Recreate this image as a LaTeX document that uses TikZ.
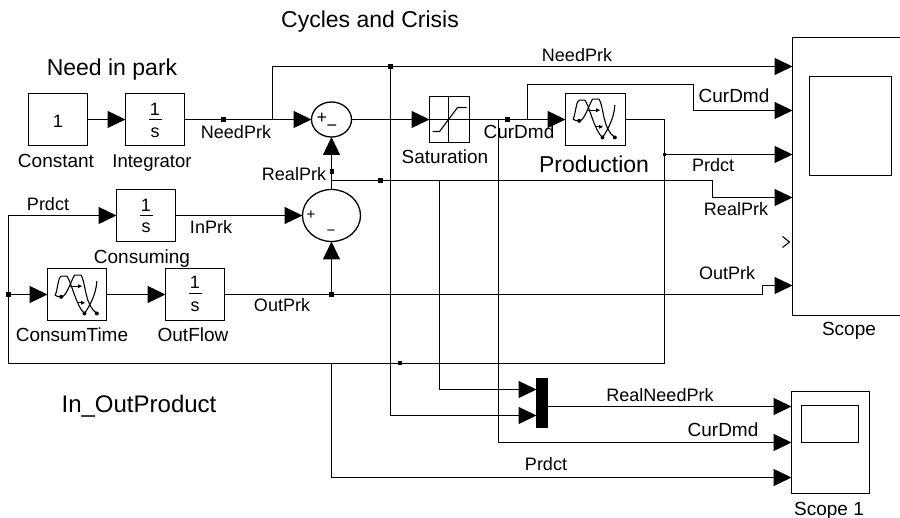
\documentclass[tikz,border=0pt]{standalone}
\usepackage{fontspec}
\setmainfont{Liberation Sans}
\usetikzlibrary{arrows.meta,shapes.geometric,calc}
\newcommand{\wavicon}[2]{%
\begin{scope}[shift={(#1,#2)},x=0.3333pt,y=-0.3333pt,line width=1.1pt]
\draw (65,97) .. controls (55,97) and (50,95) .. (47,92) .. controls (55,75) and (55,40) .. (65,35) -- (82,35) .. controls (95,50) and (110,125) .. (135,147);
\draw (65,97) .. controls (80,97) and (90,60) .. (105,32) -- (125,32) .. controls (140,60) and (135,120) .. (172,147);
\draw (172,50) .. controls (170,90) and (150,125) .. (135,147);
\draw[-{Triangle[length=4pt,width=3.5pt]}] (90,65) -- (128,65);
\draw[-{Triangle[length=4pt,width=3.5pt]}] (115,115) -- (137,115);
\fill (65,97) circle (6);
\fill (135,147) circle (6);
\fill (172,147) circle (6);
\end{scope}}
\tikzset{
  wire/.style={line width=1.3pt,line join=miter},
  arr/.style={wire,-{Triangle[length=18pt,width=17pt]}},
  blk/.style={draw,line width=1.3pt,rectangle,inner sep=0pt,outer sep=0pt,minimum width=59pt,minimum height=52pt},
  sumr/.style={draw,line width=1.3pt,ellipse,inner sep=0pt,outer sep=0pt},
  jn/.style={fill=black,rectangle,inner sep=0pt,outer sep=0pt,minimum size=4.5pt},
  lab/.style={anchor=base,inner sep=0pt,yshift=-1pt,font=\fontsize{18}{18}\selectfont},
  labw/.style={lab,font=\fontsize{19}{19}\selectfont},
  big/.style={anchor=base,inner sep=0pt,yshift=-1pt,font=\fontsize{23}{23}\selectfont},
  sgn/.style={inner sep=0pt,font=\fontsize{18}{18}\selectfont},
  sgns/.style={inner sep=0pt,font=\fontsize{15}{15}\selectfont}
}
\begin{document}
\begin{tikzpicture}[x=1pt,y=-1pt]
\useasboundingbox (0,0) rectangle (900,518);
\clip (0,0) rectangle (900,518);
\begin{scope}[shift={(-0.5,-0.5)}]
% blocks
\node[blk] (const) at (58.5,120) {};
\node[blk] (integ) at (155.5,120) {};
\node[blk] (cons) at (146.5,216) {};
\node[blk] (ctime) at (77.5,295) {};
\node[blk] (ofl) at (195.5,295) {};
\node[blk,minimum width=40pt,minimum height=46pt] (sat) at (450,120) {};
\node[blk,minimum width=60pt] (prod) at (596,120) {};
\node[blk,minimum width=112pt,minimum height=278pt] (scope) at (849,177) {};
\node[blk,minimum width=82pt,minimum height=99pt] (scopei) at (851,126.5) {};
\node[blk,minimum width=78pt,minimum height=102pt] (scb) at (831,443) {};
\node[blk,minimum width=57pt,minimum height=37pt] (scbi) at (830.5,424.5) {};
\node[draw=black,fill=black,inner sep=0pt,outer sep=0pt,minimum width=11pt,minimum height=49pt] (mux) at (542.5,403.5) {};
\node[sumr,minimum width=40pt,minimum height=35pt] (sa) at (332,120) {};
\node[sumr,minimum width=58pt,minimum height=52pt] (sb) at (332,216) {};
% junctions
\node[jn] (jneed) at (224,120) {};
\node[jn] (jtop) at (391,67) {};
\node[jn] (jcur) at (508,120) {};
\node[jn,minimum size=3.5pt] (jprd) at (665,155) {};
\node[jn] (jrp) at (332.5,172) {};
\node[jn] (jr2) at (381,181) {};
\node[jn] (jleft) at (9,295) {};
\node[jn] (jout) at (332,295) {};
\node[jn,minimum size=4pt] (jlow) at (400,364) {};
% free coordinates
\coordinate (s1) at (793,67);
\coordinate (s2) at (793,111);
\coordinate (s3) at (793,155);
\coordinate (s4) at (793,198);
\coordinate (s6) at (793,286);
\coordinate (b1) at (792,407);
\coordinate (b2) at (792,443);
\coordinate (b3) at (792,478);
\coordinate (m1) at (537,390);
\coordinate (m2) at (537,416);
\coordinate (mo) at (548,407);
% connectors
\draw[arr] (const.east) -- (integ.west);
\draw[arr] (integ.east) -- (sa.west);
\draw[arr] (273,120) -- (273,67) -- (s1);
\draw[arr] (sa.east) -- (sat.west |- sa.east);
\draw[arr] (sat.east |- prod.west) -- (prod.west);
\draw[arr] (528,120) -- (528,85) -- (694,85) -- (694,111) -- (s2);
\draw[wire] (prod.east) -- (665,120) -- (665,364) -- (9,364) -- (9,216);
\draw[arr] (9,216) -- (cons.west);
\draw[arr] (jprd) -- (s3);
\draw[arr] (jleft) -- (ctime.west);
\draw[arr] (ctime.east) -- (ofl.west);
\draw[wire] (ofl.east) -- (jout);
\draw[arr] (jout) -- (sb.south);
\draw[arr] (cons.east) -- (sb.west);
\draw[arr] (sb.north) -- (sa.south);
\draw[arr] (jout) -- (763,295) -- (763,286) -- (s6);
\draw[arr] (332,181) -- (713,181) -- (713,198) -- (s4);
\draw[arr] (440,181) -- (440,390) -- (m1);
\draw[arr] (jtop) -- (391,416) -- (m2);
\draw[arr] (499,120) -- (499,443) -- (b2);
\draw[arr] (332,364) -- (332,478) -- (b3);
\draw[arr] (mo) -- (b1);
% block icons
\draw[wire] (149,120) -- (162,120);
\draw[wire] (140,216) -- (153,216);
\draw[wire] (189,294) -- (202,294);
\wavicon{40}{265}
\wavicon{558}{89}
\draw[line width=1.1pt] (449,97) -- (449,143) (430,120) -- (470,120);
\draw[line width=1.1pt] (433,132) -- (440,132) -- (458,108) -- (467,108);
\draw[line width=1.1pt] (783,237) -- (790,242.5) -- (783,248);
\end{scope}
\node[lab] (t1) at (58,127) {1};
\node[lab] (i1) at (155,115) {1};
\node[lab] (i2) at (155,137) {s};
\node[lab] (c1) at (146,211) {1};
\node[lab] (c2) at (146,232) {s};
\node[lab] (o1) at (195,288) {1};
\node[lab] (o2) at (195,311) {s};
% signs
\node[sgn] (p1) at (322,118.5) {+};
\node[sgn] (m3) at (332,128) {−};
\node[sgns] (p2) at (311,215.5) {+};
\node[sgns] (m4) at (331,232.5) {−};
% labels
\node[big] (l1) at (370,27) {Cycles and Crisis};
\node[big] (l2) at (112,75) {Need in park};
\node[big] (l3) at (594,172) {Production};
\node[big,font=\fontsize{24}{24}\selectfont] (l4) at (139,412) {In\_OutProduct};
\node[labw] at (56,167) {Constant};
\node[lab,font=\fontsize{18.5}{18.5}\selectfont] at (152,167) {Integrator};
\node[lab] at (236,138) {NeedPrk};
\node[lab] at (294,180) {RealPrk};
\node[labw] at (445,163) {Saturation};
\node[labw] at (519,138) {CurDmd};
\node[lab] at (577,61) {NeedPrk};
\node[lab] at (48,210) {Prdct};
\node[lab] at (211,233) {InPrk};
\node[labw] at (142,263) {Consuming};
\node[labw] at (72,341) {ConsumTime};
\node[labw] at (193,341) {OutFlow};
\node[lab] at (282,311) {OutPrk};
\node[labw] at (734,102) {CurDmd};
\node[lab] at (713,171) {Prdct};
\node[lab] at (736,215) {RealPrk};
\node[lab] at (727,279) {OutPrk};
\node[labw] at (849,335) {Scope};
\node[lab] at (660,401) {RealNeedPrk};
\node[labw] at (723,436) {CurDmd};
\node[lab] at (546,470) {Prdct};
\node[labw] at (829,514) {Scope 1};
\end{tikzpicture}
\end{document}
